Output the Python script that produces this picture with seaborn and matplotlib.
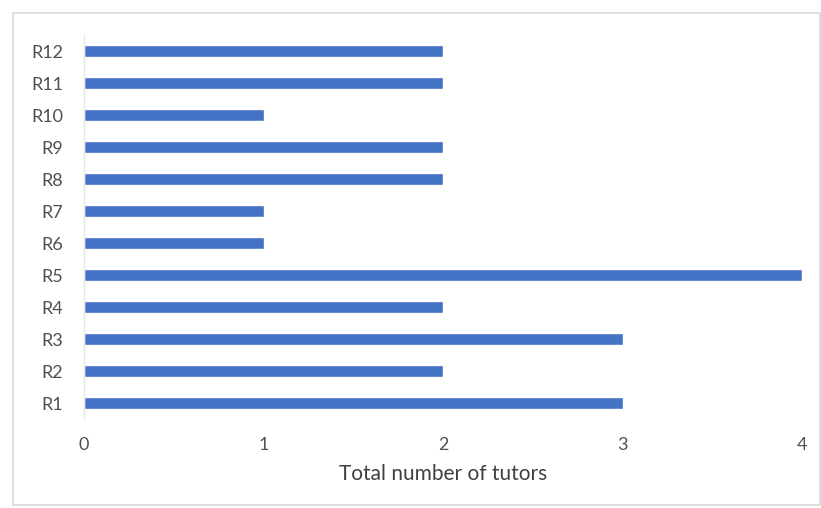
import matplotlib
matplotlib.use("Agg")
import matplotlib.pyplot as plt
import seaborn as sns
import pandas as pd
from matplotlib.patches import Rectangle

categories = ["R1", "R2", "R3", "R4", "R5", "R6", "R7", "R8", "R9", "R10", "R11", "R12"]
tutors = [3, 2, 3, 2, 4, 1, 1, 2, 2, 1, 2, 2]
x_ticks = [0, 1, 2, 3, 4]

sns.set_theme(style="white")
plt.rcParams['font.family'] = ['Lato', 'DejaVu Sans']

df = pd.DataFrame({"region": categories, "tutors": tutors})

fig = plt.figure(figsize=(8.21, 5.08), dpi=100)
fig.patches.append(Rectangle((13/821, 3/508), 807/821, 492/508, transform=fig.transFigure,
                             fill=False, edgecolor="#d9d9d9", linewidth=1.2))
ax = fig.add_axes([84/821, 1 - 419/508, (802 - 84)/821, (419 - 35)/508])

sns.barplot(data=df, y="region", x="tutors", order=categories[::-1], orient="h",
            color="#4472C4", saturation=1, width=0.35, ax=ax)

ax.set_xlim(0, 4)
ax.set_xticks(x_ticks)
ax.set_xticklabels([str(t) for t in x_ticks])
ax.set_ylabel("")
ax.set_xlabel("Total number of tutors", fontsize=15, color="#404040", labelpad=8)
for s in ["top", "right", "bottom"]:
    ax.spines[s].set_visible(False)
ax.spines["left"].set_color("#e6e6e6")
ax.spines["left"].set_linewidth(1)
ax.tick_params(axis="both", length=0, labelsize=13, labelcolor="#505050")
ax.tick_params(axis="x", pad=13)
ax.tick_params(axis="y", pad=15)

fig.savefig("out.png", dpi=100, facecolor="white")
